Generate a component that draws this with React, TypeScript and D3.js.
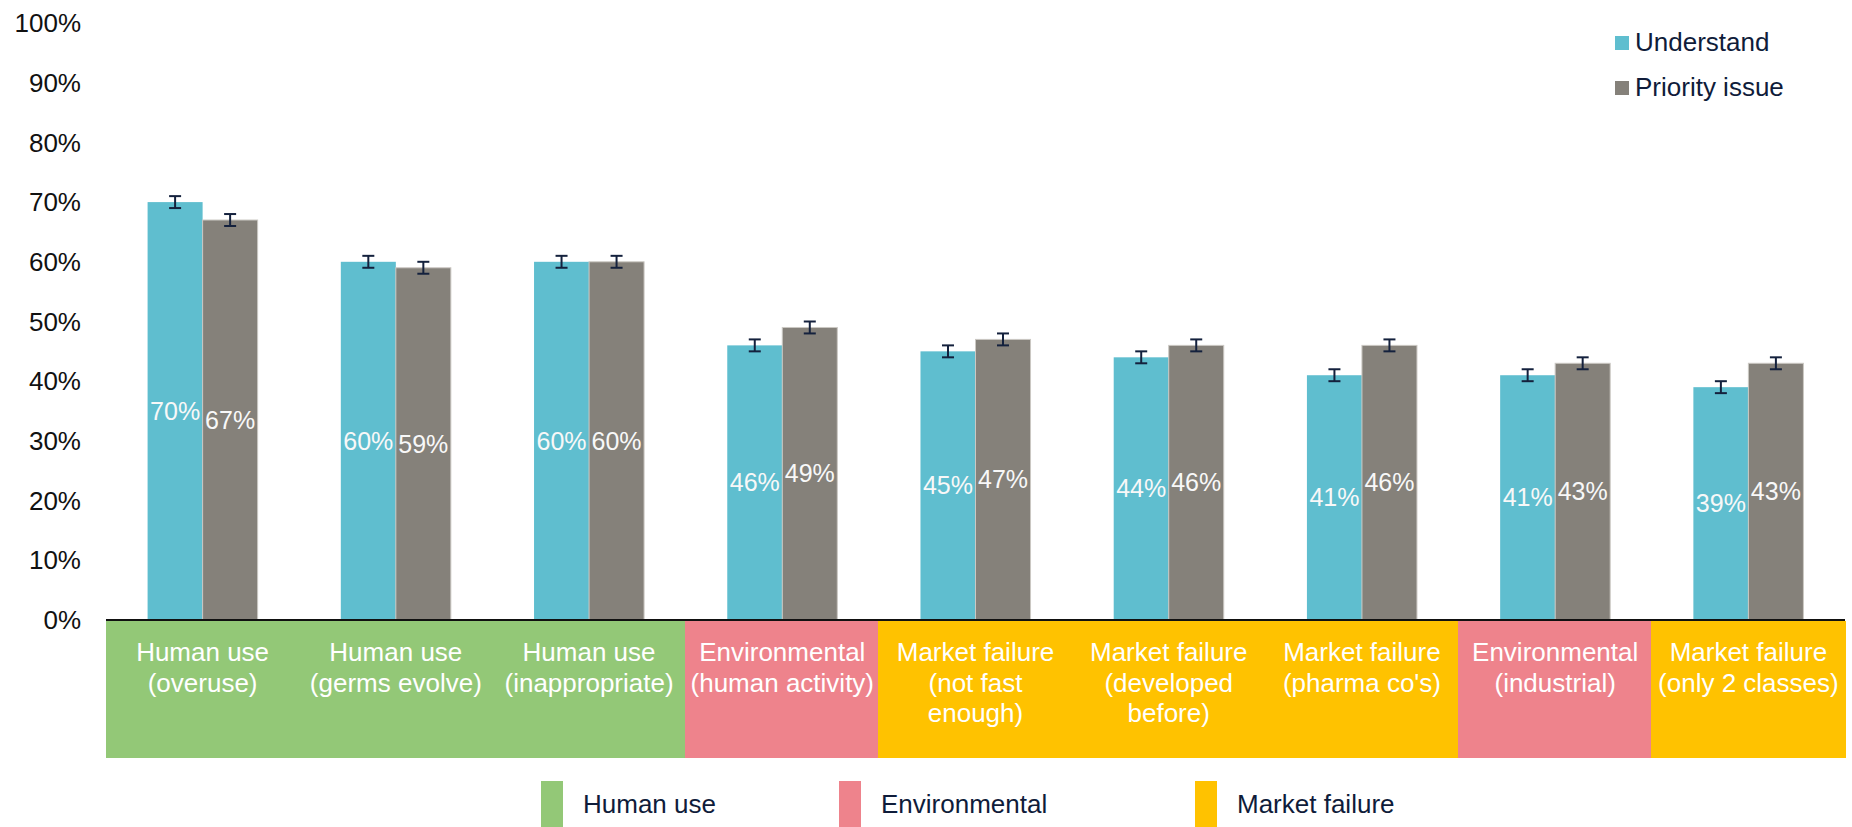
import * as React from "react";
import * as d3 from "d3";

const categories = [
  ["Human use", "(overuse)"],
  ["Human use", "(germs evolve)"],
  ["Human use", "(inappropriate)"],
  ["Environmental", "(human activity)"],
  ["Market failure", "(not fast", "enough)"],
  ["Market failure", "(developed", "before)"],
  ["Market failure", "(pharma co's)"],
  ["Environmental", "(industrial)"],
  ["Market failure", "(only 2 classes)"],
];
const groupOf = [
  "Human use", "Human use", "Human use", "Environmental",
  "Market failure", "Market failure", "Market failure", "Environmental", "Market failure",
];
const understand = [70, 60, 60, 46, 45, 44, 41, 41, 39];
const priority = [67, 59, 60, 49, 47, 46, 46, 43, 43];
const understandErr = [1, 1, 1, 1, 1, 1, 1, 1, 1];
const priorityErr = [1, 1, 1, 1, 1, 1, 1, 1, 1];
const yTicks = [0, 10, 20, 30, 40, 50, 60, 70, 80, 90, 100];
const seriesNames = ["Understand", "Priority issue"];
const groupNames = ["Human use", "Environmental", "Market failure"];

const W = 1852, H = 827;
const left = 106, right = 1845, base = 620, top = 23;
const FONT = "'Liberation Sans', Arial, Helvetica, sans-serif";
const seriesColor = d3.scaleOrdinal<string, string>().domain(seriesNames).range(["#5fbecf", "#85817a"]);
const groupColor = d3.scaleOrdinal<string, string>().domain(groupNames).range(["#93c877", "#ee838c", "#ffc200"]);
const legendX = [541, 839, 1195];

export default function App() {
  const idx = categories.map((_, i) => String(i));
  const x = d3.scaleBand().domain(idx).range([left, right]);
  const xs = d3.scaleBand().domain(seriesNames).range([0, x.bandwidth()]).paddingOuter(0.756);
  const y = d3.scaleLinear().domain([0, 100]).range([base, top]);
  const series = [
    { name: seriesNames[0], vals: understand, err: understandErr },
    { name: seriesNames[1], vals: priority, err: priorityErr },
  ];

  return (
    <svg width={W} height={H} style={{ position: "absolute", left: 0, top: 0, background: "#fff" }} fontFamily={FONT}>
      {/* y axis labels */}
      {yTicks.map((t) => (
        <text key={t} x={81} y={y(t)} dy="0.35em" textAnchor="end" fontSize={26} fill="#111">
          {t + "%"}
        </text>
      ))}

      {/* category cells */}
      {idx.map((k, i) => (
        <rect key={"c" + k} x={Math.floor(x(k)!)} y={base + 1} width={Math.ceil(x.bandwidth()) + 1} height={137}
          fill={groupColor(groupOf[i])} shapeRendering="crispEdges" />
      ))}
      {idx.map((k, i) => (
        <text key={"l" + k} x={x(k)! + x.bandwidth() / 2} textAnchor="middle" fontSize={26} fill="#fff">
          {categories[i].map((line, j) => (
            <tspan key={j} x={x(k)! + x.bandwidth() / 2} y={661 + j * 30.5}>{line}</tspan>
          ))}
        </text>
      ))}

      {/* bars */}
      {series.map((s) =>
        s.vals.map((v, i) => {
          const bx = x(String(i))! + xs(s.name)!;
          const bw = xs.bandwidth();
          const cx = bx + bw / 2;
          return (
            <g key={s.name + i}>
              <rect x={bx} y={y(v)} width={bw} height={y(0) - y(v)} fill={seriesColor(s.name)}
                stroke={s.name === seriesNames[1] ? "#cbc8c3" : "none"} strokeWidth={1} />
              <line x1={cx} x2={cx} y1={y(v - s.err[i])} y2={y(v + s.err[i])} stroke="#14213d" strokeWidth={2} />
              <line x1={cx - 6} x2={cx + 6} y1={y(v - s.err[i])} y2={y(v - s.err[i])} stroke="#14213d" strokeWidth={2} />
              <line x1={cx - 6} x2={cx + 6} y1={y(v + s.err[i])} y2={y(v + s.err[i])} stroke="#14213d" strokeWidth={2} />
              <text x={cx} y={(y(v) + y(0)) / 2} dy="0.35em" textAnchor="middle" fontSize={25} fill="#f8f8f8">
                {v + "%"}
              </text>
            </g>
          );
        })
      )}

      {/* x axis line */}
      <line x1={left} x2={right} y1={base} y2={base} stroke="#111" strokeWidth={2} />

      {/* series legend */}
      {seriesNames.map((n, i) => (
        <g key={n}>
          <rect x={1615} y={36 + i * 45} width={14} height={14} fill={seriesColor(n)} />
          <text x={1635} y={51 + i * 45} fontSize={26} fill="#0f1c3a">{n}</text>
        </g>
      ))}

      {/* group legend */}
      {groupNames.map((n, i) => (
        <g key={n}>
          <rect x={legendX[i]} y={781} width={22} height={46} fill={groupColor(n)} />
          <text x={legendX[i] + 42} y={813} fontSize={26} fill="#0f1c3a">{n}</text>
        </g>
      ))}
    </svg>
  );
}
